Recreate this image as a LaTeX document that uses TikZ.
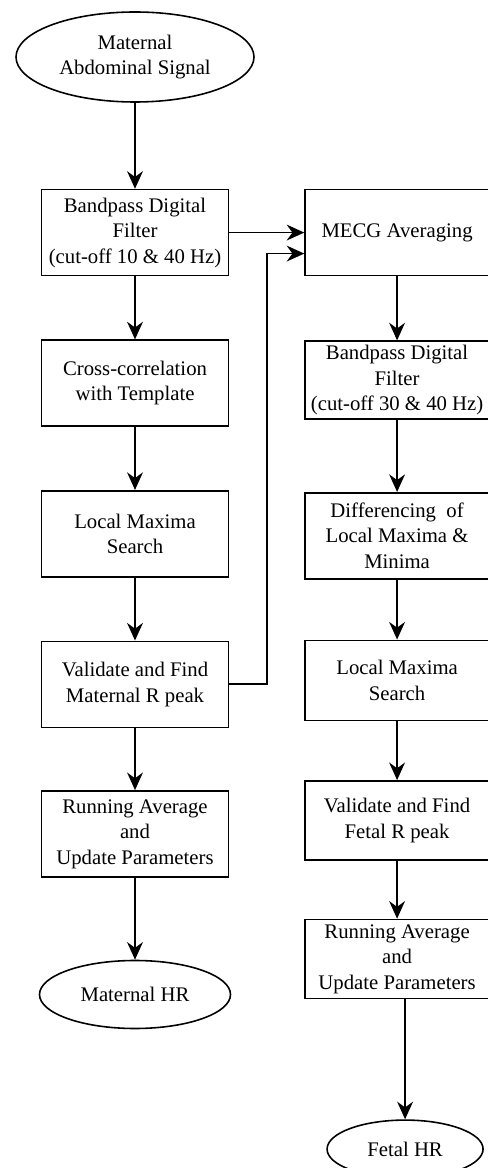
\documentclass[tikz,border=0pt]{standalone}
\usepackage{fontspec}
\setmainfont{Liberation Serif}
\usetikzlibrary{positioning,shapes.geometric,arrows.meta}
\begin{document}
\begin{tikzpicture}[
    node distance=1.26cm,
    every node/.style={font=\fontsize{11.8}{14.5}\selectfont, align=center, line width=0.9pt},
    box/.style={rectangle, draw, minimum width=3.74cm, minimum height=1.72cm, inner sep=2pt},
    rbox/.style={box, minimum width=3.68cm, minimum height=1.58cm},
    term/.style={ellipse, draw, inner sep=0pt},
    line width=1pt,
    >={Stealth[length=10pt,width=9pt]}
  ]
  \useasboundingbox (0,0) rectangle (9.76,-23.36);
  \node[term, minimum width=4.76cm, minimum height=1.8cm] (sig) at (2.7,-1.14) {Maternal\\Abdominal Signal};
  \node[box, below=1.72cm of sig] (bpm) {Bandpass Digital\\Filter\\(cut-off 10 \& 40 Hz)};
  \node[box, below=of bpm] (xcor) {Cross-correlation\\with Template};
  \node[box, below=of xcor] (lmaxm) {Local Maxima\\Search};
  \node[box, below=of lmaxm] (valm) {Validate and Find\\Maternal R peak};
  \node[box, below=1.24cm of valm] (ravm) {Running Average\\and\\Update Parameters};
  \node[term, minimum width=3.82cm, minimum height=1.36cm, below=1.64cm of ravm] (mhr) {Maternal HR};
  \node[rbox, minimum height=1.72cm, right=1.5cm of bpm] (mecg) {MECG Averaging};
  \node[rbox, minimum height=1.56cm, below=1.28cm of mecg] (bpf) {Bandpass Digital\\Filter\\(cut-off 30 \& 40 Hz)};
  \node[rbox, minimum height=1.72cm, below=1.44cm of bpf] (diff) {Differencing\ \ of\\Local Maxima \&\\Minima};
  \node[rbox, minimum height=1.6cm, below=1.2cm of diff] (lmaxf) {Local Maxima\\Search};
  \node[rbox, below=1.18cm of lmaxf] (valf) {Validate and Find\\Fetal R peak};
  \node[rbox, below=1.16cm of valf] (ravf) {Running Average\\and\\Update Parameters};
  \node[term, minimum width=3.12cm, minimum height=1.16cm, below=2.4cm of ravf, xshift=0.16cm] (fhr) {Fetal HR};
  \draw[->] (sig) -- (bpm);
  \draw[->] (bpm) -- (xcor);
  \draw[->] (xcor) -- (lmaxm);
  \draw[->] (lmaxm) -- (valm);
  \draw[->] (valm) -- (ravm);
  \draw[->] (ravm) -- (mhr);
  \draw[->] (bpm) -- (mecg);
  \draw[->] (valm.east) -- ++(0.76,0) |- ([yshift=-0.42cm]mecg.west);
  \draw[->] (mecg) -- (bpf);
  \draw[->] (bpf) -- (diff);
  \draw[->] (diff) -- (lmaxf);
  \draw[->] (lmaxf) -- (valf);
  \draw[->] (valf) -- (ravf);
  \draw[->] (ravf.south -| fhr.north) -- (fhr);
\end{tikzpicture}
\end{document}
